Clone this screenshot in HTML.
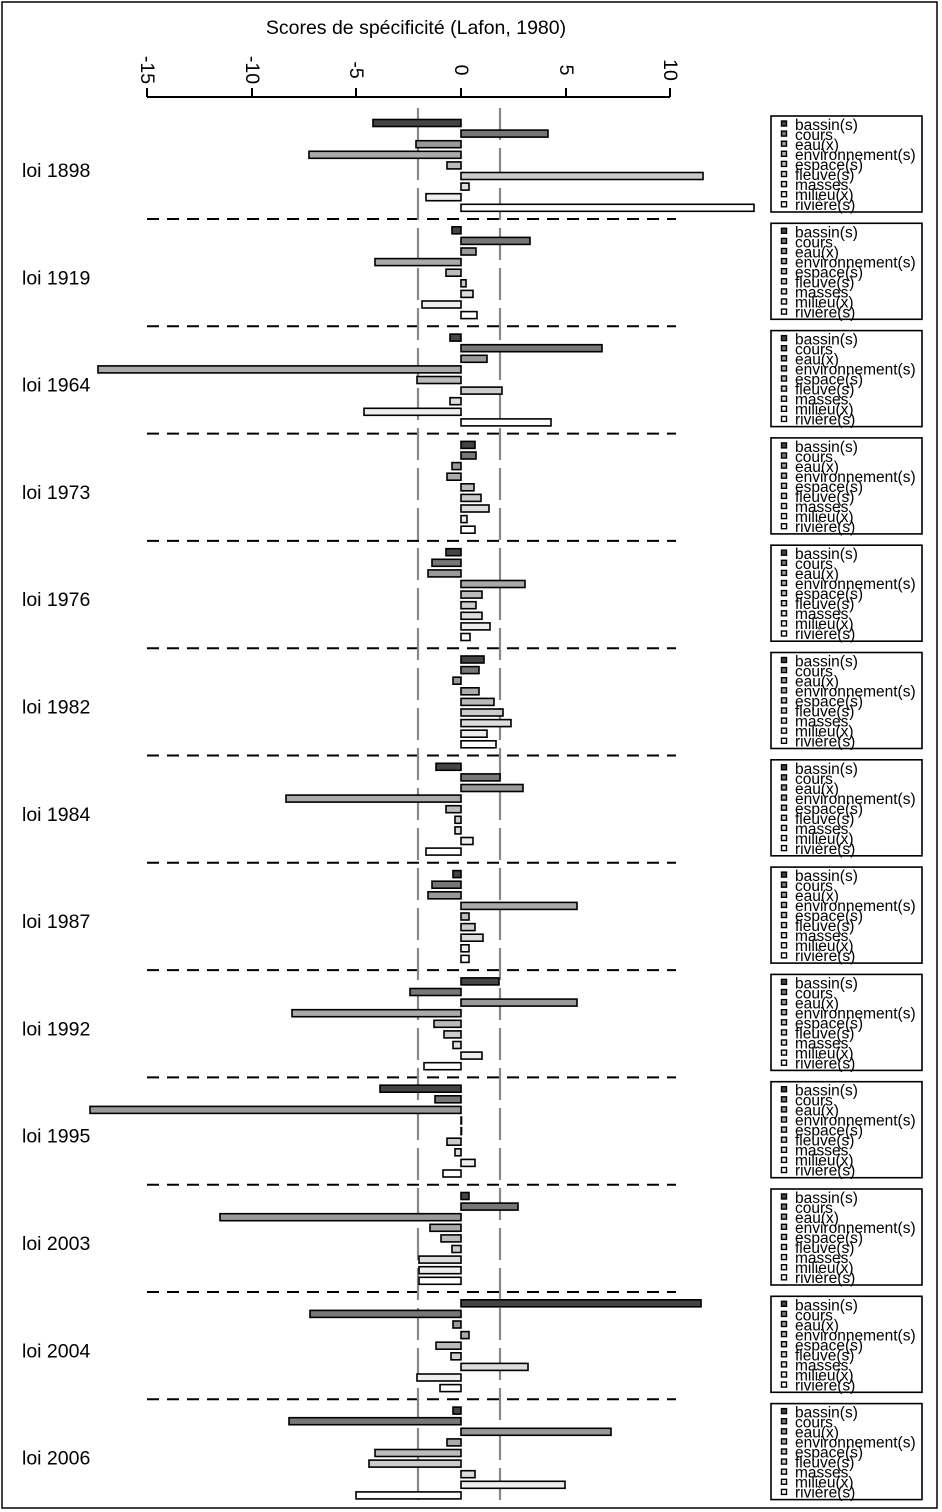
<!DOCTYPE html>
<html><head><meta charset="utf-8"><style>
html,body{margin:0;padding:0;background:#fff}
svg{display:block;font-family:"Liberation Sans",sans-serif}
.b rect{stroke:#000;stroke-width:1.6}
.lg{font-size:15.5px}
.lab{font-size:19.5px}
</style></head><body>
<svg width="942" height="1512" viewBox="0 0 942 1512">
<rect x="2" y="2" width="935" height="1506" fill="none" stroke="#000" stroke-width="1.5"/>
<text x="416" y="34" font-size="19.5" text-anchor="middle">Scores de spécificité (Lafon, 1980)</text>
<line x1="147" y1="97" x2="670" y2="97" stroke="#000" stroke-width="2"/>
<g stroke="#000" stroke-width="2">
<line x1="147" y1="88" x2="147" y2="97"/><line x1="252" y1="88" x2="252" y2="97"/><line x1="356" y1="88" x2="356" y2="97"/><line x1="461" y1="88" x2="461" y2="97"/><line x1="566" y1="88" x2="566" y2="97"/><line x1="670" y1="88" x2="670" y2="97"/>
</g>
<g font-size="19.5" text-anchor="middle">
<text transform="translate(141,70) rotate(90)">-15</text>
<text transform="translate(246,70) rotate(90)">-10</text>
<text transform="translate(350,70) rotate(90)">-5</text>
<text transform="translate(455,70) rotate(90)">0</text>
<text transform="translate(560,70) rotate(90)">5</text>
<text transform="translate(664,70) rotate(90)">10</text>
</g>
<g stroke="#000" stroke-width="2" stroke-dasharray="12,8">
<line x1="147" y1="219" x2="676" y2="219"/><line x1="147" y1="326.3" x2="676" y2="326.3"/><line x1="147" y1="433.6" x2="676" y2="433.6"/><line x1="147" y1="540.9" x2="676" y2="540.9"/><line x1="147" y1="648.2" x2="676" y2="648.2"/><line x1="147" y1="755.5" x2="676" y2="755.5"/><line x1="147" y1="862.8" x2="676" y2="862.8"/><line x1="147" y1="970.1" x2="676" y2="970.1"/><line x1="147" y1="1077.4" x2="676" y2="1077.4"/><line x1="147" y1="1184.7" x2="676" y2="1184.7"/><line x1="147" y1="1292" x2="676" y2="1292"/><line x1="147" y1="1399.3" x2="676" y2="1399.3"/>
</g>
<g stroke="#888" stroke-width="2.2" stroke-dasharray="32,8">
<line x1="418" y1="108" x2="418" y2="1505"/><line x1="500" y1="108" x2="500" y2="1505"/>
</g>

<g id="g0">
<g class="b">
<rect x="373" y="119.5" width="88" height="7" fill="#444"/><rect x="461" y="130.1" width="87" height="7" fill="#777"/><rect x="416" y="140.7" width="45" height="7" fill="#999"/><rect x="309" y="151.3" width="152" height="7" fill="#aaa"/><rect x="447" y="161.9" width="14" height="7" fill="#bbb"/><rect x="461" y="172.5" width="242" height="7" fill="#ccc"/><rect x="461" y="183.1" width="8" height="7" fill="#ddd"/><rect x="426" y="193.7" width="35" height="7" fill="#eee"/><rect x="461" y="204.3" width="293" height="7" fill="#fff"/>
</g>
<text class="lab" x="22" y="177">loi 1898</text>
<rect x="771" y="116" width="151" height="96" fill="none" stroke="#000" stroke-width="1.6"/>
<g class="lg"><text x="795" y="130">bassin(s)</text><text x="795" y="140">cours</text><text x="795" y="150">eau(x)</text><text x="795" y="160">environnement(s)</text><text x="795" y="170">espace(s)</text><text x="795" y="180">fleuve(s)</text><text x="795" y="190">masses</text><text x="795" y="200">milieu(x)</text><text x="795" y="210">rivière(s)</text></g>
<g stroke="#000" stroke-width="1.4"><rect x="781.5" y="121" width="5" height="5" fill="#444"/><rect x="781.5" y="131.1" width="5" height="5" fill="#777"/><rect x="781.5" y="141.2" width="5" height="5" fill="#999"/><rect x="781.5" y="151.3" width="5" height="5" fill="#aaa"/><rect x="781.5" y="161.4" width="5" height="5" fill="#bbb"/><rect x="781.5" y="171.5" width="5" height="5" fill="#ccc"/><rect x="781.5" y="181.6" width="5" height="5" fill="#ddd"/><rect x="781.5" y="191.7" width="5" height="5" fill="#eee"/><rect x="781.5" y="201.8" width="5" height="5" fill="#fff"/></g>
</g>

<g transform="translate(0,107.3)">
<g class="b">
<rect x="452" y="119.5" width="9" height="7" fill="#444"/><rect x="461" y="130.1" width="69" height="7" fill="#777"/><rect x="461" y="140.7" width="15" height="7" fill="#999"/><rect x="375" y="151.3" width="86" height="7" fill="#aaa"/><rect x="446" y="161.9" width="15" height="7" fill="#bbb"/><rect x="461" y="172.5" width="5" height="7" fill="#ccc"/><rect x="461" y="183.1" width="12" height="7" fill="#ddd"/><rect x="422" y="193.7" width="39" height="7" fill="#eee"/><rect x="461" y="204.3" width="16" height="7" fill="#fff"/>
</g>
<text class="lab" x="22" y="177">loi 1919</text>
<rect x="771" y="116" width="151" height="96" fill="none" stroke="#000" stroke-width="1.6"/>
<g class="lg"><text x="795" y="130">bassin(s)</text><text x="795" y="140">cours</text><text x="795" y="150">eau(x)</text><text x="795" y="160">environnement(s)</text><text x="795" y="170">espace(s)</text><text x="795" y="180">fleuve(s)</text><text x="795" y="190">masses</text><text x="795" y="200">milieu(x)</text><text x="795" y="210">rivière(s)</text></g>
<g stroke="#000" stroke-width="1.4"><rect x="781.5" y="121" width="5" height="5" fill="#444"/><rect x="781.5" y="131.1" width="5" height="5" fill="#777"/><rect x="781.5" y="141.2" width="5" height="5" fill="#999"/><rect x="781.5" y="151.3" width="5" height="5" fill="#aaa"/><rect x="781.5" y="161.4" width="5" height="5" fill="#bbb"/><rect x="781.5" y="171.5" width="5" height="5" fill="#ccc"/><rect x="781.5" y="181.6" width="5" height="5" fill="#ddd"/><rect x="781.5" y="191.7" width="5" height="5" fill="#eee"/><rect x="781.5" y="201.8" width="5" height="5" fill="#fff"/></g>
</g>

<g transform="translate(0,214.6)">
<g class="b">
<rect x="450" y="119.5" width="11" height="7" fill="#444"/><rect x="461" y="130.1" width="141" height="7" fill="#777"/><rect x="461" y="140.7" width="26" height="7" fill="#999"/><rect x="98" y="151.3" width="363" height="7" fill="#aaa"/><rect x="417" y="161.9" width="44" height="7" fill="#bbb"/><rect x="461" y="172.5" width="41" height="7" fill="#ccc"/><rect x="450" y="183.1" width="11" height="7" fill="#ddd"/><rect x="364" y="193.7" width="97" height="7" fill="#eee"/><rect x="461" y="204.3" width="90" height="7" fill="#fff"/>
</g>
<text class="lab" x="22" y="177">loi 1964</text>
<rect x="771" y="116" width="151" height="96" fill="none" stroke="#000" stroke-width="1.6"/>
<g class="lg"><text x="795" y="130">bassin(s)</text><text x="795" y="140">cours</text><text x="795" y="150">eau(x)</text><text x="795" y="160">environnement(s)</text><text x="795" y="170">espace(s)</text><text x="795" y="180">fleuve(s)</text><text x="795" y="190">masses</text><text x="795" y="200">milieu(x)</text><text x="795" y="210">rivière(s)</text></g>
<g stroke="#000" stroke-width="1.4"><rect x="781.5" y="121" width="5" height="5" fill="#444"/><rect x="781.5" y="131.1" width="5" height="5" fill="#777"/><rect x="781.5" y="141.2" width="5" height="5" fill="#999"/><rect x="781.5" y="151.3" width="5" height="5" fill="#aaa"/><rect x="781.5" y="161.4" width="5" height="5" fill="#bbb"/><rect x="781.5" y="171.5" width="5" height="5" fill="#ccc"/><rect x="781.5" y="181.6" width="5" height="5" fill="#ddd"/><rect x="781.5" y="191.7" width="5" height="5" fill="#eee"/><rect x="781.5" y="201.8" width="5" height="5" fill="#fff"/></g>
</g>

<g transform="translate(0,321.9)">
<g class="b">
<rect x="461" y="119.5" width="14" height="7" fill="#444"/><rect x="461" y="130.1" width="15" height="7" fill="#777"/><rect x="452" y="140.7" width="9" height="7" fill="#999"/><rect x="447" y="151.3" width="14" height="7" fill="#aaa"/><rect x="461" y="161.9" width="13" height="7" fill="#bbb"/><rect x="461" y="172.5" width="20" height="7" fill="#ccc"/><rect x="461" y="183.1" width="28" height="7" fill="#ddd"/><rect x="461" y="193.7" width="6" height="7" fill="#eee"/><rect x="461" y="204.3" width="14" height="7" fill="#fff"/>
</g>
<text class="lab" x="22" y="177">loi 1973</text>
<rect x="771" y="116" width="151" height="96" fill="none" stroke="#000" stroke-width="1.6"/>
<g class="lg"><text x="795" y="130">bassin(s)</text><text x="795" y="140">cours</text><text x="795" y="150">eau(x)</text><text x="795" y="160">environnement(s)</text><text x="795" y="170">espace(s)</text><text x="795" y="180">fleuve(s)</text><text x="795" y="190">masses</text><text x="795" y="200">milieu(x)</text><text x="795" y="210">rivière(s)</text></g>
<g stroke="#000" stroke-width="1.4"><rect x="781.5" y="121" width="5" height="5" fill="#444"/><rect x="781.5" y="131.1" width="5" height="5" fill="#777"/><rect x="781.5" y="141.2" width="5" height="5" fill="#999"/><rect x="781.5" y="151.3" width="5" height="5" fill="#aaa"/><rect x="781.5" y="161.4" width="5" height="5" fill="#bbb"/><rect x="781.5" y="171.5" width="5" height="5" fill="#ccc"/><rect x="781.5" y="181.6" width="5" height="5" fill="#ddd"/><rect x="781.5" y="191.7" width="5" height="5" fill="#eee"/><rect x="781.5" y="201.8" width="5" height="5" fill="#fff"/></g>
</g>

<g transform="translate(0,429.2)">
<g class="b">
<rect x="446" y="119.5" width="15" height="7" fill="#444"/><rect x="432" y="130.1" width="29" height="7" fill="#777"/><rect x="428" y="140.7" width="33" height="7" fill="#999"/><rect x="461" y="151.3" width="64" height="7" fill="#aaa"/><rect x="461" y="161.9" width="21" height="7" fill="#bbb"/><rect x="461" y="172.5" width="15" height="7" fill="#ccc"/><rect x="461" y="183.1" width="21" height="7" fill="#ddd"/><rect x="461" y="193.7" width="29" height="7" fill="#eee"/><rect x="461" y="204.3" width="9" height="7" fill="#fff"/>
</g>
<text class="lab" x="22" y="177">loi 1976</text>
<rect x="771" y="116" width="151" height="96" fill="none" stroke="#000" stroke-width="1.6"/>
<g class="lg"><text x="795" y="130">bassin(s)</text><text x="795" y="140">cours</text><text x="795" y="150">eau(x)</text><text x="795" y="160">environnement(s)</text><text x="795" y="170">espace(s)</text><text x="795" y="180">fleuve(s)</text><text x="795" y="190">masses</text><text x="795" y="200">milieu(x)</text><text x="795" y="210">rivière(s)</text></g>
<g stroke="#000" stroke-width="1.4"><rect x="781.5" y="121" width="5" height="5" fill="#444"/><rect x="781.5" y="131.1" width="5" height="5" fill="#777"/><rect x="781.5" y="141.2" width="5" height="5" fill="#999"/><rect x="781.5" y="151.3" width="5" height="5" fill="#aaa"/><rect x="781.5" y="161.4" width="5" height="5" fill="#bbb"/><rect x="781.5" y="171.5" width="5" height="5" fill="#ccc"/><rect x="781.5" y="181.6" width="5" height="5" fill="#ddd"/><rect x="781.5" y="191.7" width="5" height="5" fill="#eee"/><rect x="781.5" y="201.8" width="5" height="5" fill="#fff"/></g>
</g>

<g transform="translate(0,536.5)">
<g class="b">
<rect x="461" y="119.5" width="23" height="7" fill="#444"/><rect x="461" y="130.1" width="18" height="7" fill="#777"/><rect x="453" y="140.7" width="8" height="7" fill="#999"/><rect x="461" y="151.3" width="18" height="7" fill="#aaa"/><rect x="461" y="161.9" width="33" height="7" fill="#bbb"/><rect x="461" y="172.5" width="42" height="7" fill="#ccc"/><rect x="461" y="183.1" width="50" height="7" fill="#ddd"/><rect x="461" y="193.7" width="26" height="7" fill="#eee"/><rect x="461" y="204.3" width="35" height="7" fill="#fff"/>
</g>
<text class="lab" x="22" y="177">loi 1982</text>
<rect x="771" y="116" width="151" height="96" fill="none" stroke="#000" stroke-width="1.6"/>
<g class="lg"><text x="795" y="130">bassin(s)</text><text x="795" y="140">cours</text><text x="795" y="150">eau(x)</text><text x="795" y="160">environnement(s)</text><text x="795" y="170">espace(s)</text><text x="795" y="180">fleuve(s)</text><text x="795" y="190">masses</text><text x="795" y="200">milieu(x)</text><text x="795" y="210">rivière(s)</text></g>
<g stroke="#000" stroke-width="1.4"><rect x="781.5" y="121" width="5" height="5" fill="#444"/><rect x="781.5" y="131.1" width="5" height="5" fill="#777"/><rect x="781.5" y="141.2" width="5" height="5" fill="#999"/><rect x="781.5" y="151.3" width="5" height="5" fill="#aaa"/><rect x="781.5" y="161.4" width="5" height="5" fill="#bbb"/><rect x="781.5" y="171.5" width="5" height="5" fill="#ccc"/><rect x="781.5" y="181.6" width="5" height="5" fill="#ddd"/><rect x="781.5" y="191.7" width="5" height="5" fill="#eee"/><rect x="781.5" y="201.8" width="5" height="5" fill="#fff"/></g>
</g>

<g transform="translate(0,643.8)">
<g class="b">
<rect x="436" y="119.5" width="25" height="7" fill="#444"/><rect x="461" y="130.1" width="39" height="7" fill="#777"/><rect x="461" y="140.7" width="62" height="7" fill="#999"/><rect x="286" y="151.3" width="175" height="7" fill="#aaa"/><rect x="446" y="161.9" width="15" height="7" fill="#bbb"/><rect x="455" y="172.5" width="6" height="7" fill="#ccc"/><rect x="455" y="183.1" width="6" height="7" fill="#ddd"/><rect x="461" y="193.7" width="12" height="7" fill="#eee"/><rect x="426" y="204.3" width="35" height="7" fill="#fff"/>
</g>
<text class="lab" x="22" y="177">loi 1984</text>
<rect x="771" y="116" width="151" height="96" fill="none" stroke="#000" stroke-width="1.6"/>
<g class="lg"><text x="795" y="130">bassin(s)</text><text x="795" y="140">cours</text><text x="795" y="150">eau(x)</text><text x="795" y="160">environnement(s)</text><text x="795" y="170">espace(s)</text><text x="795" y="180">fleuve(s)</text><text x="795" y="190">masses</text><text x="795" y="200">milieu(x)</text><text x="795" y="210">rivière(s)</text></g>
<g stroke="#000" stroke-width="1.4"><rect x="781.5" y="121" width="5" height="5" fill="#444"/><rect x="781.5" y="131.1" width="5" height="5" fill="#777"/><rect x="781.5" y="141.2" width="5" height="5" fill="#999"/><rect x="781.5" y="151.3" width="5" height="5" fill="#aaa"/><rect x="781.5" y="161.4" width="5" height="5" fill="#bbb"/><rect x="781.5" y="171.5" width="5" height="5" fill="#ccc"/><rect x="781.5" y="181.6" width="5" height="5" fill="#ddd"/><rect x="781.5" y="191.7" width="5" height="5" fill="#eee"/><rect x="781.5" y="201.8" width="5" height="5" fill="#fff"/></g>
</g>

<g transform="translate(0,751.1)">
<g class="b">
<rect x="453" y="119.5" width="8" height="7" fill="#444"/><rect x="432" y="130.1" width="29" height="7" fill="#777"/><rect x="428" y="140.7" width="33" height="7" fill="#999"/><rect x="461" y="151.3" width="116" height="7" fill="#aaa"/><rect x="461" y="161.9" width="8" height="7" fill="#bbb"/><rect x="461" y="172.5" width="14" height="7" fill="#ccc"/><rect x="461" y="183.1" width="22" height="7" fill="#ddd"/><rect x="461" y="193.7" width="8" height="7" fill="#eee"/><rect x="461" y="204.3" width="8" height="7" fill="#fff"/>
</g>
<text class="lab" x="22" y="177">loi 1987</text>
<rect x="771" y="116" width="151" height="96" fill="none" stroke="#000" stroke-width="1.6"/>
<g class="lg"><text x="795" y="130">bassin(s)</text><text x="795" y="140">cours</text><text x="795" y="150">eau(x)</text><text x="795" y="160">environnement(s)</text><text x="795" y="170">espace(s)</text><text x="795" y="180">fleuve(s)</text><text x="795" y="190">masses</text><text x="795" y="200">milieu(x)</text><text x="795" y="210">rivière(s)</text></g>
<g stroke="#000" stroke-width="1.4"><rect x="781.5" y="121" width="5" height="5" fill="#444"/><rect x="781.5" y="131.1" width="5" height="5" fill="#777"/><rect x="781.5" y="141.2" width="5" height="5" fill="#999"/><rect x="781.5" y="151.3" width="5" height="5" fill="#aaa"/><rect x="781.5" y="161.4" width="5" height="5" fill="#bbb"/><rect x="781.5" y="171.5" width="5" height="5" fill="#ccc"/><rect x="781.5" y="181.6" width="5" height="5" fill="#ddd"/><rect x="781.5" y="191.7" width="5" height="5" fill="#eee"/><rect x="781.5" y="201.8" width="5" height="5" fill="#fff"/></g>
</g>

<g transform="translate(0,858.4)">
<g class="b">
<rect x="461" y="119.5" width="38" height="7" fill="#444"/><rect x="410" y="130.1" width="51" height="7" fill="#777"/><rect x="461" y="140.7" width="116" height="7" fill="#999"/><rect x="292" y="151.3" width="169" height="7" fill="#aaa"/><rect x="434" y="161.9" width="27" height="7" fill="#bbb"/><rect x="444" y="172.5" width="17" height="7" fill="#ccc"/><rect x="453" y="183.1" width="8" height="7" fill="#ddd"/><rect x="461" y="193.7" width="21" height="7" fill="#eee"/><rect x="424" y="204.3" width="37" height="7" fill="#fff"/>
</g>
<text class="lab" x="22" y="177">loi 1992</text>
<rect x="771" y="116" width="151" height="96" fill="none" stroke="#000" stroke-width="1.6"/>
<g class="lg"><text x="795" y="130">bassin(s)</text><text x="795" y="140">cours</text><text x="795" y="150">eau(x)</text><text x="795" y="160">environnement(s)</text><text x="795" y="170">espace(s)</text><text x="795" y="180">fleuve(s)</text><text x="795" y="190">masses</text><text x="795" y="200">milieu(x)</text><text x="795" y="210">rivière(s)</text></g>
<g stroke="#000" stroke-width="1.4"><rect x="781.5" y="121" width="5" height="5" fill="#444"/><rect x="781.5" y="131.1" width="5" height="5" fill="#777"/><rect x="781.5" y="141.2" width="5" height="5" fill="#999"/><rect x="781.5" y="151.3" width="5" height="5" fill="#aaa"/><rect x="781.5" y="161.4" width="5" height="5" fill="#bbb"/><rect x="781.5" y="171.5" width="5" height="5" fill="#ccc"/><rect x="781.5" y="181.6" width="5" height="5" fill="#ddd"/><rect x="781.5" y="191.7" width="5" height="5" fill="#eee"/><rect x="781.5" y="201.8" width="5" height="5" fill="#fff"/></g>
</g>

<g transform="translate(0,965.7)">
<g class="b">
<rect x="380" y="119.5" width="81" height="7" fill="#444"/><rect x="435" y="130.1" width="26" height="7" fill="#777"/><rect x="90" y="140.7" width="371" height="7" fill="#999"/><rect x="461" y="151.3" width="0.5" height="7" fill="#aaa"/><rect x="461" y="161.9" width="0.5" height="7" fill="#bbb"/><rect x="447" y="172.5" width="14" height="7" fill="#ccc"/><rect x="455" y="183.1" width="6" height="7" fill="#ddd"/><rect x="461" y="193.7" width="14" height="7" fill="#eee"/><rect x="443" y="204.3" width="18" height="7" fill="#fff"/>
</g>
<text class="lab" x="22" y="177">loi 1995</text>
<rect x="771" y="116" width="151" height="96" fill="none" stroke="#000" stroke-width="1.6"/>
<g class="lg"><text x="795" y="130">bassin(s)</text><text x="795" y="140">cours</text><text x="795" y="150">eau(x)</text><text x="795" y="160">environnement(s)</text><text x="795" y="170">espace(s)</text><text x="795" y="180">fleuve(s)</text><text x="795" y="190">masses</text><text x="795" y="200">milieu(x)</text><text x="795" y="210">rivière(s)</text></g>
<g stroke="#000" stroke-width="1.4"><rect x="781.5" y="121" width="5" height="5" fill="#444"/><rect x="781.5" y="131.1" width="5" height="5" fill="#777"/><rect x="781.5" y="141.2" width="5" height="5" fill="#999"/><rect x="781.5" y="151.3" width="5" height="5" fill="#aaa"/><rect x="781.5" y="161.4" width="5" height="5" fill="#bbb"/><rect x="781.5" y="171.5" width="5" height="5" fill="#ccc"/><rect x="781.5" y="181.6" width="5" height="5" fill="#ddd"/><rect x="781.5" y="191.7" width="5" height="5" fill="#eee"/><rect x="781.5" y="201.8" width="5" height="5" fill="#fff"/></g>
</g>

<g transform="translate(0,1073)">
<g class="b">
<rect x="461" y="119.5" width="8" height="7" fill="#444"/><rect x="461" y="130.1" width="57" height="7" fill="#777"/><rect x="220" y="140.7" width="241" height="7" fill="#999"/><rect x="430" y="151.3" width="31" height="7" fill="#aaa"/><rect x="441" y="161.9" width="20" height="7" fill="#bbb"/><rect x="452" y="172.5" width="9" height="7" fill="#ccc"/><rect x="419" y="183.1" width="42" height="7" fill="#ddd"/><rect x="419" y="193.7" width="42" height="7" fill="#eee"/><rect x="419" y="204.3" width="42" height="7" fill="#fff"/>
</g>
<text class="lab" x="22" y="177">loi 2003</text>
<rect x="771" y="116" width="151" height="96" fill="none" stroke="#000" stroke-width="1.6"/>
<g class="lg"><text x="795" y="130">bassin(s)</text><text x="795" y="140">cours</text><text x="795" y="150">eau(x)</text><text x="795" y="160">environnement(s)</text><text x="795" y="170">espace(s)</text><text x="795" y="180">fleuve(s)</text><text x="795" y="190">masses</text><text x="795" y="200">milieu(x)</text><text x="795" y="210">rivière(s)</text></g>
<g stroke="#000" stroke-width="1.4"><rect x="781.5" y="121" width="5" height="5" fill="#444"/><rect x="781.5" y="131.1" width="5" height="5" fill="#777"/><rect x="781.5" y="141.2" width="5" height="5" fill="#999"/><rect x="781.5" y="151.3" width="5" height="5" fill="#aaa"/><rect x="781.5" y="161.4" width="5" height="5" fill="#bbb"/><rect x="781.5" y="171.5" width="5" height="5" fill="#ccc"/><rect x="781.5" y="181.6" width="5" height="5" fill="#ddd"/><rect x="781.5" y="191.7" width="5" height="5" fill="#eee"/><rect x="781.5" y="201.8" width="5" height="5" fill="#fff"/></g>
</g>

<g transform="translate(0,1180.3)">
<g class="b">
<rect x="461" y="119.5" width="240" height="7" fill="#444"/><rect x="310" y="130.1" width="151" height="7" fill="#777"/><rect x="453" y="140.7" width="8" height="7" fill="#999"/><rect x="461" y="151.3" width="8" height="7" fill="#aaa"/><rect x="436" y="161.9" width="25" height="7" fill="#bbb"/><rect x="451" y="172.5" width="10" height="7" fill="#ccc"/><rect x="461" y="183.1" width="67" height="7" fill="#ddd"/><rect x="417" y="193.7" width="44" height="7" fill="#eee"/><rect x="440" y="204.3" width="21" height="7" fill="#fff"/>
</g>
<text class="lab" x="22" y="177">loi 2004</text>
<rect x="771" y="116" width="151" height="96" fill="none" stroke="#000" stroke-width="1.6"/>
<g class="lg"><text x="795" y="130">bassin(s)</text><text x="795" y="140">cours</text><text x="795" y="150">eau(x)</text><text x="795" y="160">environnement(s)</text><text x="795" y="170">espace(s)</text><text x="795" y="180">fleuve(s)</text><text x="795" y="190">masses</text><text x="795" y="200">milieu(x)</text><text x="795" y="210">rivière(s)</text></g>
<g stroke="#000" stroke-width="1.4"><rect x="781.5" y="121" width="5" height="5" fill="#444"/><rect x="781.5" y="131.1" width="5" height="5" fill="#777"/><rect x="781.5" y="141.2" width="5" height="5" fill="#999"/><rect x="781.5" y="151.3" width="5" height="5" fill="#aaa"/><rect x="781.5" y="161.4" width="5" height="5" fill="#bbb"/><rect x="781.5" y="171.5" width="5" height="5" fill="#ccc"/><rect x="781.5" y="181.6" width="5" height="5" fill="#ddd"/><rect x="781.5" y="191.7" width="5" height="5" fill="#eee"/><rect x="781.5" y="201.8" width="5" height="5" fill="#fff"/></g>
</g>

<g transform="translate(0,1287.6)">
<g class="b">
<rect x="453" y="119.5" width="8" height="7" fill="#444"/><rect x="289" y="130.1" width="172" height="7" fill="#777"/><rect x="461" y="140.7" width="150" height="7" fill="#999"/><rect x="447" y="151.3" width="14" height="7" fill="#aaa"/><rect x="375" y="161.9" width="86" height="7" fill="#bbb"/><rect x="369" y="172.5" width="92" height="7" fill="#ccc"/><rect x="461" y="183.1" width="14" height="7" fill="#ddd"/><rect x="461" y="193.7" width="104" height="7" fill="#eee"/><rect x="356" y="204.3" width="105" height="7" fill="#fff"/>
</g>
<text class="lab" x="22" y="177">loi 2006</text>
<rect x="771" y="116" width="151" height="96" fill="none" stroke="#000" stroke-width="1.6"/>
<g class="lg"><text x="795" y="130">bassin(s)</text><text x="795" y="140">cours</text><text x="795" y="150">eau(x)</text><text x="795" y="160">environnement(s)</text><text x="795" y="170">espace(s)</text><text x="795" y="180">fleuve(s)</text><text x="795" y="190">masses</text><text x="795" y="200">milieu(x)</text><text x="795" y="210">rivière(s)</text></g>
<g stroke="#000" stroke-width="1.4"><rect x="781.5" y="121" width="5" height="5" fill="#444"/><rect x="781.5" y="131.1" width="5" height="5" fill="#777"/><rect x="781.5" y="141.2" width="5" height="5" fill="#999"/><rect x="781.5" y="151.3" width="5" height="5" fill="#aaa"/><rect x="781.5" y="161.4" width="5" height="5" fill="#bbb"/><rect x="781.5" y="171.5" width="5" height="5" fill="#ccc"/><rect x="781.5" y="181.6" width="5" height="5" fill="#ddd"/><rect x="781.5" y="191.7" width="5" height="5" fill="#eee"/><rect x="781.5" y="201.8" width="5" height="5" fill="#fff"/></g>
</g>
</svg>
</body></html>
